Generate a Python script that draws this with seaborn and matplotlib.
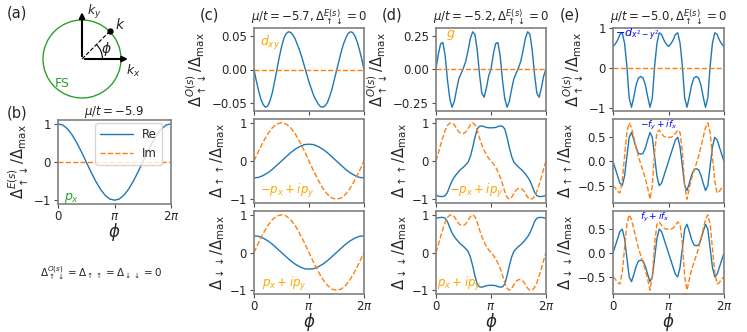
import numpy as np
import matplotlib
matplotlib.use("Agg")
import matplotlib.pyplot as plt
import seaborn as sns
from matplotlib.patches import Circle, Arc

sns.set_style("ticks")
plt.rcParams['font.family'] = ['DejaVu Sans']
plt.rcParams['mathtext.fontset'] = 'dejavusans'

# ---------------------------------------------------------------- data
phi_c = np.linspace(0, 2 * np.pi, 25)   # 15 deg steps
phi_f = np.linspace(0, 2 * np.pi, 49)   # 7.5 deg steps

b_re = [1.0, 0.97, 0.87, 0.71, 0.5, 0.26, 0.0, -0.26, -0.5, -0.71, -0.87, -0.97, -1.0,
        -0.97, -0.87, -0.71, -0.5, -0.26, 0.0, 0.26, 0.5, 0.71, 0.87, 0.97, 1.0]
b_im = [0.0] * 25

c_top = [0.0, -0.017, -0.032, -0.045, -0.053, -0.057, -0.055, -0.047, -0.035, -0.018, 0.0,
         0.018, 0.034, 0.047, 0.054, 0.057, 0.056, 0.052, 0.046, 0.037, 0.028, 0.017, 0.005,
         -0.007, -0.019, -0.029, -0.039, -0.046, -0.052, -0.056, -0.057, -0.055, -0.050,
         -0.041, -0.030, -0.016, -0.002, 0.012, 0.026, 0.038, 0.047, 0.054, 0.057, 0.056,
         0.051, 0.042, 0.030, 0.016, 0.0]
c_uu_re = [-0.44, -0.43, -0.38, -0.31, -0.22, -0.11, 0.0, 0.11, 0.22, 0.31, 0.38, 0.43, 0.44,
           0.43, 0.38, 0.31, 0.22, 0.11, 0.0, -0.11, -0.22, -0.31, -0.38, -0.43, -0.44]
c_uu_im = [0.0, 0.26, 0.5, 0.71, 0.87, 0.97, 1.0, 0.97, 0.87, 0.71, 0.5, 0.26, 0.0,
           -0.26, -0.5, -0.71, -0.87, -0.97, -1.0, -0.97, -0.87, -0.71, -0.5, -0.26, 0.0]
c_dd_re = [0.44, 0.43, 0.38, 0.31, 0.22, 0.11, 0.0, -0.11, -0.22, -0.31, -0.38, -0.43, -0.44,
           -0.43, -0.38, -0.31, -0.22, -0.11, 0.0, 0.11, 0.22, 0.31, 0.38, 0.43, 0.44]
c_dd_im = [0.0, 0.26, 0.5, 0.71, 0.87, 0.97, 1.0, 0.97, 0.87, 0.71, 0.5, 0.26, 0.0,
           -0.26, -0.5, -0.71, -0.87, -0.97, -1.0, -0.97, -0.87, -0.71, -0.5, -0.26, 0.0]

d_top = [0.0, 0.11, 0.19, 0.20, 0.10, -0.08, -0.22, -0.285, -0.24, -0.15, -0.07, -0.03,
         0.01, 0.06, 0.14, 0.23, 0.28, 0.26, 0.14, -0.04, -0.18, -0.21, -0.14, -0.05, 0.0,
         0.11, 0.19, 0.20, 0.10, -0.08, -0.22, -0.285, -0.24, -0.15, -0.07, -0.03,
         0.01, 0.06, 0.14, 0.23, 0.28, 0.26, 0.14, -0.04, -0.18, -0.21, -0.14, -0.05, 0.0]
d_uu_re = [-0.90, -0.92, -0.93, -0.93, -0.91, -0.82, -0.66, -0.52, -0.42, -0.34, -0.27, -0.21,
           -0.16, -0.10, -0.03, 0.12, 0.35, 0.62, 0.84, 0.91, 0.92, 0.90, 0.88, 0.87, 0.87,
           0.87, 0.88, 0.90, 0.92, 0.91, 0.84, 0.62, 0.35, 0.12, -0.03, -0.10, -0.16,
           -0.21, -0.27, -0.34, -0.42, -0.52, -0.66, -0.82, -0.91, -0.93, -0.93, -0.92, -0.90]
d_uu_im = [0.0, 0.2, 0.42, 0.62, 0.8, 0.93, 0.99, 1.0, 0.95, 0.85, 0.76, 0.72,
           0.72, 0.76, 0.85, 0.95, 1.0, 0.95, 0.8, 0.6, 0.42, 0.28, 0.16, 0.07, 0.0,
           -0.07, -0.16, -0.28, -0.42, -0.6, -0.8, -0.95, -1.0, -0.95, -0.85, -0.76, -0.72,
           -0.72, -0.76, -0.85, -0.95, -1.0, -0.99, -0.93, -0.8, -0.62, -0.42, -0.2, 0.0]
d_dd_re = [0.90, 0.92, 0.93, 0.93, 0.91, 0.82, 0.66, 0.52, 0.42, 0.34, 0.27, 0.21,
           0.16, 0.10, 0.03, -0.12, -0.35, -0.62, -0.84, -0.91, -0.92, -0.90, -0.88, -0.87, -0.87,
           -0.87, -0.88, -0.90, -0.92, -0.91, -0.84, -0.62, -0.35, -0.12, 0.03, 0.10, 0.16,
           0.21, 0.27, 0.34, 0.42, 0.52, 0.66, 0.82, 0.91, 0.93, 0.93, 0.92, 0.90]
d_dd_im = [0.0, 0.2, 0.42, 0.62, 0.8, 0.93, 0.99, 1.0, 0.95, 0.85, 0.76, 0.72,
           0.72, 0.76, 0.85, 0.95, 1.0, 0.95, 0.8, 0.6, 0.42, 0.28, 0.16, 0.07, 0.0,
           -0.07, -0.16, -0.28, -0.42, -0.6, -0.8, -0.95, -1.0, -0.95, -0.85, -0.76, -0.72,
           -0.72, -0.76, -0.85, -0.95, -1.0, -0.99, -0.93, -0.8, -0.62, -0.42, -0.2, 0.0]

e_top = [0.54, 0.60, 0.70, 0.84, 0.88, 0.62, 0.05, -0.75, -0.98, -0.72, -0.42, -0.25,
         -0.21, -0.25, -0.42, -0.72, -0.98, -0.75, 0.05, 0.62, 0.88, 0.84, 0.70, 0.60, 0.54,
         0.60, 0.70, 0.84, 0.88, 0.62, 0.05, -0.75, -0.98, -0.72, -0.42, -0.25,
         -0.21, -0.25, -0.42, -0.72, -0.98, -0.75, 0.05, 0.62, 0.88, 0.84, 0.70, 0.60, 0.54]
e_uu_re = [0.0, -0.15, -0.3, -0.45, -0.5, -0.3, 0.1, 0.5, 0.6, 0.45, 0.28, 0.17,
           0.15, 0.17, 0.28, 0.45, 0.6, 0.5, 0.1, -0.3, -0.5, -0.45, -0.3, -0.15, 0.0,
           0.15, 0.3, 0.45, 0.5, 0.3, -0.1, -0.5, -0.6, -0.45, -0.28, -0.17,
           -0.15, -0.17, -0.28, -0.45, -0.6, -0.5, -0.1, 0.3, 0.5, 0.45, 0.3, 0.15, 0.0]
e_uu_im = [-0.5, -0.55, -0.62, -0.65, -0.4, 0.1, 0.6, 0.8, 0.7, 0.5, 0.3, 0.1,
           -0.05, -0.2, -0.35, -0.55, -0.78, -0.5, 0.2, 0.6, 0.65, 0.58, 0.52, 0.5, 0.5,
           0.5, 0.52, 0.58, 0.65, 0.6, 0.2, -0.5, -0.78, -0.55, -0.35, -0.2, -0.05,
           0.1, 0.3, 0.5, 0.7, 0.8, 0.6, 0.1, -0.4, -0.65, -0.62, -0.55, -0.5]
e_dd_re = [0.0, 0.15, 0.3, 0.45, 0.5, 0.3, -0.1, -0.5, -0.6, -0.45, -0.28, -0.17,
           -0.15, -0.17, -0.28, -0.45, -0.6, -0.5, -0.1, 0.3, 0.5, 0.45, 0.3, 0.15, 0.0,
           -0.15, -0.3, -0.45, -0.5, -0.3, 0.1, 0.5, 0.6, 0.45, 0.28, 0.17,
           0.15, 0.17, 0.28, 0.45, 0.6, 0.5, 0.1, -0.3, -0.5, -0.45, -0.3, -0.15, 0.0]
e_dd_im = [-0.5, -0.55, -0.62, -0.65, -0.4, 0.1, 0.6, 0.8, 0.7, 0.5, 0.3, 0.1,
           -0.05, -0.2, -0.35, -0.55, -0.78, -0.5, 0.2, 0.6, 0.65, 0.58, 0.52, 0.5, 0.5,
           0.5, 0.52, 0.58, 0.65, 0.6, 0.2, -0.5, -0.78, -0.55, -0.35, -0.2, -0.05,
           0.1, 0.3, 0.5, 0.7, 0.8, 0.6, 0.1, -0.4, -0.65, -0.62, -0.55, -0.5]
zero_f = [0.0] * 49

# ---------------------------------------------------------------- layout
W, H = 747, 332
fig = plt.figure(figsize=(7.47, 3.32), dpi=100)
BLUE, ORANGE = '#1f77b4', '#ff7f0e'


def px_axes(l, t, r, b):
    return fig.add_axes([l / W, 1 - b / H, (r - l) / W, (b - t) / H])


def draw(ax, x, re, im, yticks, yticklabels, ylabel, xlabels=False, legend=False):
    sns.lineplot(x=x, y=re, ax=ax, color=BLUE, lw=1.0, label='Re' if legend else None)
    sns.lineplot(x=x, y=im, ax=ax, color=ORANGE, lw=1.0, linestyle='--',
                 label='Im' if legend else None)
    ax.set_xlim(0, 2 * np.pi)
    ax.set_xticks([0, np.pi, 2 * np.pi])
    if xlabels:
        ax.set_xticklabels(['0', r'$\pi$', r'$2\pi$'])
        ax.set_xlabel(r'$\phi$', fontsize=12, labelpad=-1)
    else:
        ax.set_xticklabels([])
    ax.set_yticks(yticks)
    ax.set_yticklabels(yticklabels)
    ax.set_ylabel(ylabel, fontsize=10.5, labelpad=2)
    ax.tick_params(labelsize=8.5, length=3, color='0.3', pad=2)
    ax.tick_params(axis='x', pad=1)
    for s in ax.spines.values():
        s.set_color('0.5')
        s.set_linewidth(1.2)
    if not legend and ax.get_legend() is not None:
        ax.get_legend().remove()


rows = [(28, 111), (119, 203), (211, 294)]
cols = {'c': (254, 364), 'd': (436, 546), 'e': (613, 724)}

lbl_eo = r'$\Delta^{O(s)}_{\uparrow\downarrow}/\Delta_{\max}$'
lbl_uu = r'$\Delta_{\uparrow\uparrow}/\Delta_{\max}$'
lbl_dd = r'$\Delta_{\downarrow\downarrow}/\Delta_{\max}$'
t1 = [-1, 0, 1]
t1l = ['\u22121', '0', '1']

# (a) Fermi surface sketch
axa = px_axes(20, 2, 150, 106)
axa.set_xlim((20 - 82) / 39, (150 - 82) / 39)
axa.set_ylim(-(106 - 59) / 39, (59 - 2) / 39)
axa.axis('off')
axa.add_patch(Circle((0, 0), 1.0, fill=False, color='tab:green', lw=1.0))
for tip in [(1.25, 0), (0, 1.27)]:
    axa.annotate('', xy=tip, xytext=(0, 0),
                 arrowprops=dict(arrowstyle='-|>', lw=1.5, color='k', mutation_scale=8))
axa.plot([0, 0.72], [0, 0.72], 'k--', lw=0.8)
axa.plot([0.72], [0.72], 'ko', ms=3.5)
axa.add_patch(Arc((0, 0), 1.05, 1.05, theta1=0, theta2=45, color='k', lw=0.8))
axa.text(0.62, 0.25, r'$\phi$', fontsize=10, ha='center', va='center')
axa.text(0.84, 0.88, r'$\mathbf{\mathit{k}}$', fontsize=10, ha='left', va='center')
axa.text(0.12, 1.2, r'$k_y$', fontsize=9, ha='left', va='center')
axa.text(1.12, -0.3, r'$k_x$', fontsize=9, ha='left', va='center')
axa.text(-0.52, -0.62, 'FS', fontsize=9, color='tab:green', ha='center', va='center')
fig.text(7 / W, 1 - 13 / H, '(a)', fontsize=10.5, va='center')

# (b)
axb = px_axes(58, 120, 171, 204)
draw(axb, phi_c, b_re, b_im, t1, t1l,
     r'$\Delta^{E(s)}_{\uparrow\downarrow}/\Delta_{\max}$', xlabels=True, legend=True)
axb.legend(loc='upper right', bbox_to_anchor=(0.92, 0.96), borderaxespad=0,
           fontsize=8.5, handlelength=2.8)
axb.set_title(r'$\mu/t = -5.9$', fontsize=8.5, pad=2)
axb.text(0.05, 0.05, r'$p_x$', color='tab:green', fontsize=9, transform=axb.transAxes)
fig.text(7 / W, 1 - 113 / H, '(b)', fontsize=10.5, va='center')
fig.text(40 / W, 1 - 273 / H,
         r'$\Delta^{O(s)}_{\uparrow\downarrow} = \Delta_{\uparrow\uparrow} = \Delta_{\downarrow\downarrow} = 0$',
         fontsize=7.5, va='center')

panels = {
    'c': [(c_top, zero_f, phi_f, [-0.05, 0, 0.05], ['\u22120.05', '0.00', '0.05']),
          (c_uu_re, c_uu_im, phi_c, t1, t1l),
          (c_dd_re, c_dd_im, phi_c, t1, t1l)],
    'd': [(d_top, zero_f, phi_f, [-0.25, 0, 0.25], ['\u22120.25', '0.00', '0.25']),
          (d_uu_re, d_uu_im, phi_f, t1, t1l),
          (d_dd_re, d_dd_im, phi_f, t1, t1l)],
    'e': [(e_top, zero_f, phi_f, t1, t1l),
          (e_uu_re, e_uu_im, phi_f, [-0.5, 0, 0.5], ['\u22120.5', '0.0', '0.5']),
          (e_dd_re, e_dd_im, phi_f, [-0.5, 0, 0.5], ['\u22120.5', '0.0', '0.5'])],
}
titles = {'c': -5.7, 'd': -5.2, 'e': -5.0}
letter_x = {'c': 200, 'd': 382, 'e': 560}
axes = {}
for key, (l, r) in cols.items():
    for i, (t, b) in enumerate(rows):
        re, im, x, yt, ytl = panels[key][i]
        ax = px_axes(l, t, r, b)
        draw(ax, x, re, im, yt, ytl, [lbl_eo, lbl_uu, lbl_dd][i], xlabels=(i == 2))
        axes[key, i] = ax
    axes[key, 0].set_title(r'$\mu/t = %.1f, \Delta^{E(s)}_{\uparrow\downarrow} = 0$' % titles[key],
                           fontsize=8.5, pad=5)
    fig.text(letter_x[key] / W, 1 - 15 / H, '(%s)' % key, fontsize=10.5, va='center')

OR = 'orange'
axes['c', 0].text(0.05, 0.93, r'$d_{xy}$', color=OR, fontsize=9, va='top', transform=axes['c', 0].transAxes)
axes['c', 1].text(0.05, 0.14, r'$-p_x + ip_y$', color=OR, fontsize=8.5, va='center', transform=axes['c', 1].transAxes)
axes['c', 2].text(0.07, 0.12, r'$p_x + ip_y$', color=OR, fontsize=8.5, va='center', transform=axes['c', 2].transAxes)
axes['d', 0].text(0.09, 0.92, r'$g$', color=OR, fontsize=9, va='center', transform=axes['d', 0].transAxes)
axes['d', 1].text(0.12, 0.14, r'$-p_x + ip_y$', color=OR, fontsize=8.5, va='center', transform=axes['d', 1].transAxes)
axes['d', 2].text(0.01, 0.12, r'$p_x + ip_y$', color=OR, fontsize=8.5, va='center', transform=axes['d', 2].transAxes)
axes['e', 0].text(0.02, 0.92, r'$-d_{x^2-y^2}$', color='blue', fontsize=8, va='center', transform=axes['e', 0].transAxes)
axes['e', 1].text(0.41, 0.92, r'$-f_y + if_x$', color='blue', fontsize=6.5, ha='center', va='center', transform=axes['e', 1].transAxes)
axes['e', 2].text(0.38, 0.92, r'$f_y + if_x$', color='blue', fontsize=6.5, ha='center', va='center', transform=axes['e', 2].transAxes)

fig.savefig('out.png', dpi=100)
